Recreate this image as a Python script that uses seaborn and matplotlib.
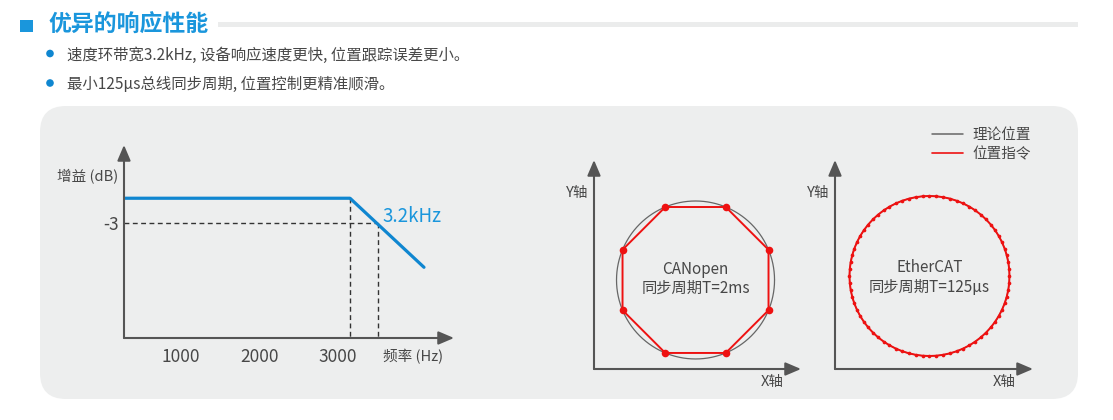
import numpy as np
import matplotlib.pyplot as plt
import seaborn as sns
from matplotlib.patches import FancyBboxPatch, Rectangle, Circle
from matplotlib.lines import Line2D

sns.set_theme(style="white")
plt.rcParams['font.family'] = ['Noto Sans CJK SC', 'DejaVu Sans']

# === Text ===
title = "优异的响应性能"
bullets = ["速度环带宽3.2kHz, 设备响应速度更快, 位置跟踪误差更小。",
           "最小125μs总线同步周期, 位置控制更精准顺滑。"]

# === Bode plot data (frequency in Hz, gain in dB) ===
freq_ticks = [1000, 2000, 3000]
freq_range = [272, 4484]
gain_range = [-16.8, 6.4]
gain_freq = [272, 3157, 4101]
gain_db = [0, 0, -8.3]
corner_freq = 3157
cutoff_freq = 3514
cutoff_db = -3
cutoff_label = "3.2kHz"

# === Circle tracking data ===
canopen_angles = [22.5, 67.5, 112.5, 157.5, 202.5, 247.5, 292.5, 337.5]
ethercat_samples = 72
legend_labels = ["理论位置", "位置指令"]

# === Colors ===
blue = "#1a96dc"
line_blue = "#0f86d0"
axis_grey = "#555555"
text_grey = "#474747"
panel_grey = "#edeeee"
red = "#ee1111"

W, H = 1113, 420
fig = plt.figure(figsize=(W / 100, H / 100), dpi=100)


def px_axes(x0, y0, x1, y1):
    ax = fig.add_axes([x0 / W, 1 - y1 / H, (x1 - x0) / W, (y1 - y0) / H])
    ax.patch.set_visible(False)
    for s in ax.spines.values():
        s.set_visible(False)
    return ax


def draw_arrows(ax, lw=1.5):
    style = "-|>,head_length=0.47,head_width=0.2"
    for tip in [(1, 0), (0, 1)]:
        ax.annotate("", xy=tip, xytext=(0, 0), xycoords="axes fraction",
                    arrowprops=dict(arrowstyle=style, color=axis_grey, lw=lw,
                                    mutation_scale=20, shrinkA=0, shrinkB=0))


# === Background: header + grey panel ===
bg = fig.add_axes([0, 0, 1, 1])
bg.set_xlim(0, W)
bg.set_ylim(H, 0)
bg.axis("off")
bg.add_patch(Rectangle((20, 20), 13, 12, color=blue, lw=0))
bg.text(48, 25, title, fontsize=16.5, color=blue, va="center", ha="left", fontweight="bold")
bg.add_patch(Rectangle((218, 22), 860, 5, color="#ebecec", lw=0))
for i, line in enumerate(bullets):
    y = 55 + i * 29.5
    bg.add_patch(Circle((50, y - 1.5), 3.8, color=line_blue, lw=0))
    bg.text(67, y, line, fontsize=11.1, color=text_grey, va="center", ha="left")
bg.add_patch(FancyBboxPatch((40, 106), 1038, 293, boxstyle="round,pad=0,rounding_size=26",
                            facecolor=panel_grey, edgecolor="none"))

# === Left: gain vs frequency ===
ax1 = px_axes(124, 145, 454, 338)
ax1.set_xlim(freq_range)
ax1.set_ylim(gain_range)
dash = dict(color="#333333", lw=1, ls=(0, (3.5, 2.5)), zorder=1)
ax1.plot([freq_range[0], cutoff_freq], [cutoff_db, cutoff_db], **dash)
ax1.plot([corner_freq, corner_freq], [0, gain_range[0]], **dash)
ax1.plot([cutoff_freq, cutoff_freq], [cutoff_db, gain_range[0]], **dash)
sns.lineplot(x=gain_freq, y=gain_db, ax=ax1, color=line_blue, lw=2.3, zorder=3)
draw_arrows(ax1)
ax1.set_xticks(freq_ticks)
ax1.set_xticklabels([str(f) for f in freq_ticks])
ax1.set_yticks([cutoff_db])
ax1.set_yticklabels([str(cutoff_db)])
ax1.tick_params(axis="x", length=0, pad=7, labelsize=12.5, labelcolor=text_grey)
ax1.tick_params(axis="y", length=0, pad=4, labelsize=12.5, labelcolor=text_grey)
ax1.text(cutoff_freq + 440, cutoff_db + 0.85, cutoff_label, color=blue, fontsize=13.5,
         ha="center", va="center")
ax1.text(-0.11, 0.835, "增益 (dB)", transform=ax1.transAxes, fontsize=10.5,
         color=text_grey, ha="center", va="center")
ax1.text(0.876, -0.098, "频率 (Hz)", transform=ax1.transAxes, fontsize=10.5,
         color=text_grey, ha="center", va="center")


# === Middle and right: circle tracking ===
def circle_panel(box, xlim, ylim, pts_deg, marker_size, label_lines, label_y):
    ax = px_axes(*box)
    ax.set_xlim(xlim)
    ax.set_ylim(ylim)
    ax.set_xticks([])
    ax.set_yticks([])
    t = np.linspace(0, 2 * np.pi, 121)
    sns.lineplot(x=np.cos(t), y=np.sin(t), ax=ax, sort=False, estimator=None,
                 color="#666666", lw=0.9, zorder=2)
    a = np.deg2rad(np.append(pts_deg, pts_deg[0]))
    sns.lineplot(x=np.cos(a), y=np.sin(a), ax=ax, sort=False, estimator=None,
                 color=red, lw=1.4, zorder=3)
    sns.scatterplot(x=np.cos(a[:-1]), y=np.sin(a[:-1]), ax=ax, color=red,
                    s=marker_size, linewidth=0, zorder=4)
    for txt, yy in zip(label_lines, label_y):
        ax.text(0, yy, txt, fontsize=11, color=text_grey, ha="center", va="center")
    draw_arrows(ax)
    w = (box[2] - box[0])
    ax.text(-17 / w, 0.842, "Y轴", transform=ax.transAxes, fontsize=10.5,
            color=text_grey, ha="center", va="center")
    ax.text(1 - 29 / w, -0.062, "X轴", transform=ax.transAxes, fontsize=10.5,
            color=text_grey, ha="center", va="center")
    return ax


circle_panel((594, 160, 801, 369), [-1.285, 1.335], [-1.127, 1.519],
             np.array(canopen_angles), 30, ["CANopen", "同步周期T=2ms"], [0.127, -0.10])

ethercat_angles = np.linspace(0, 360, ethercat_samples, endpoint=False)
ax3 = circle_panel((835, 160, 1033, 369), [-1.181, 1.294], [-1.1625, 1.45],
                   ethercat_angles, 7, ["EtherCAT", "同步周期T=125μs"], [0.1, -0.14])

handles = [Line2D([], [], color="#666666", lw=1.1), Line2D([], [], color=red, lw=1.2)]
fig.legend(handles, legend_labels, loc="upper left", bbox_to_anchor=(932 / W, 1 - 128 / H),
           frameon=False, fontsize=10.5, handlelength=2.15, handletextpad=0.6,
           labelspacing=0.35, borderpad=0, borderaxespad=0, labelcolor=text_grey)

plt.savefig("out.png", dpi=100)
